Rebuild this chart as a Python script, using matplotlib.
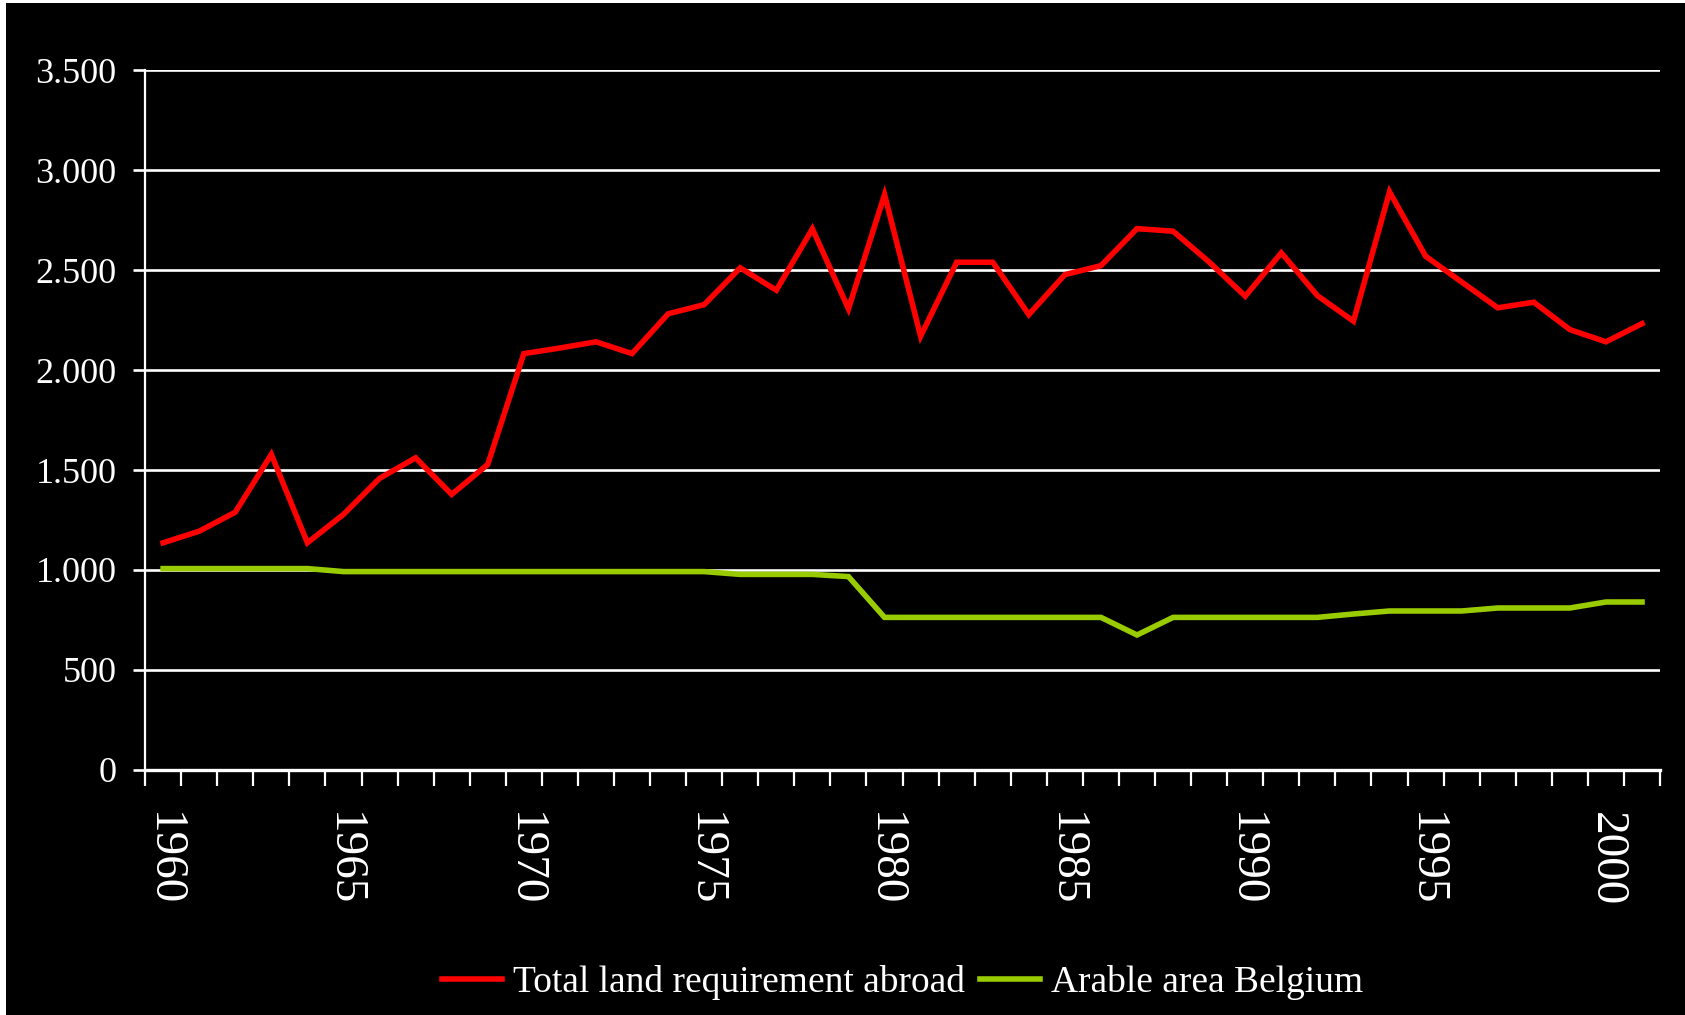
import matplotlib
matplotlib.use("Agg")
import matplotlib.pyplot as plt
from matplotlib.patches import Rectangle
from matplotlib.ticker import FuncFormatter

years = list(range(1960, 2002))
land_abroad = [1136, 1194, 1289, 1578, 1136, 1278, 1458, 1561, 1378, 1528,
               2082, 2110, 2141, 2082, 2281, 2327, 2511, 2399, 2706, 2306,
               2877, 2169, 2539, 2539, 2277, 2477, 2522, 2707, 2694, 2540,
               2369, 2586, 2372, 2244, 2891, 2569, 2440, 2311, 2339, 2202,
               2141, 2232]
arable_be = [1007, 1007, 1007, 1007, 1007, 992, 992, 992, 992, 992,
             992, 992, 992, 992, 992, 992, 978, 978, 978, 967,
             763, 763, 763, 763, 763, 763, 763, 675, 763, 763,
             763, 763, 763, 780, 795, 795, 795, 810, 810, 810,
             840, 840]
labels = ["Total land requirement abroad", "Arable area Belgium"]
colors = ["#ff0000", "#99cc00"]

serif = ["Liberation Serif", "DejaVu Serif"]
plt.rcParams["font.family"] = serif

fig = plt.figure(figsize=(16.85, 10.15), dpi=100, facecolor="white")
# black canvas, leaving the thin white strip on top and left as in the source
fig.patches.append(Rectangle((6 / 1685, 0), 1, 1 - 3 / 1015,
                             transform=fig.transFigure, facecolor="black",
                             edgecolor="none", zorder=-10))

left, right, bottom, top = 0.0861, 0.9852, 0.2414, 0.931
ax = fig.add_axes([left, bottom, right - left, top - bottom])
ax.set_facecolor("black")

x = list(range(len(years)))
l1, = ax.plot(x, land_abroad, color=colors[0], lw=4.0, solid_joinstyle="miter", zorder=3)
l2, = ax.plot(x, arable_be, color=colors[1], lw=4.0, solid_joinstyle="miter", zorder=3)

ax.set_xlim(-0.5, len(years) - 0.5)
ax.set_ylim(0, 3500)
ax.set_yticks(range(0, 3501, 500))
ax.yaxis.set_major_formatter(FuncFormatter(lambda v, p: f"{int(v):,}".replace(",", ".")))
ax.grid(axis="y", color="white", lw=1.9, zorder=1)
ax.set_axisbelow(True)

ax.set_xticks([i for i, y in enumerate(years) if y % 5 == 0])
ax.set_xticklabels([str(y) for y in years if y % 5 == 0], rotation=-90)
ax.set_xticks([i - 0.5 for i in range(len(years) + 1)], minor=True)
ax.tick_params(axis="x", which="major", length=0, pad=30, labelsize=34, colors="white")
ax.tick_params(axis="x", which="minor", length=11.5, width=1.6, color="white")
ax.tick_params(axis="y", length=8.6, width=1.9, color="white", pad=12,
               labelsize=26, labelcolor="white")

for s in ["top", "right"]:
    ax.spines[s].set_visible(False)
ax.spines["left"].set_color("white")
ax.spines["left"].set_linewidth(1.6)
ax.spines["bottom"].set_color("white")
ax.spines["bottom"].set_linewidth(2.4)

leg = fig.legend([l1, l2], labels, loc="center",
                 bbox_to_anchor=((left + right) / 2, 0.032),
                 ncol=2, frameon=False, fontsize=27, labelcolor="white",
                 handlelength=1.6, handletextpad=0.3, columnspacing=0.4)

fig.savefig("out.png", dpi=100, facecolor=fig.get_facecolor())
